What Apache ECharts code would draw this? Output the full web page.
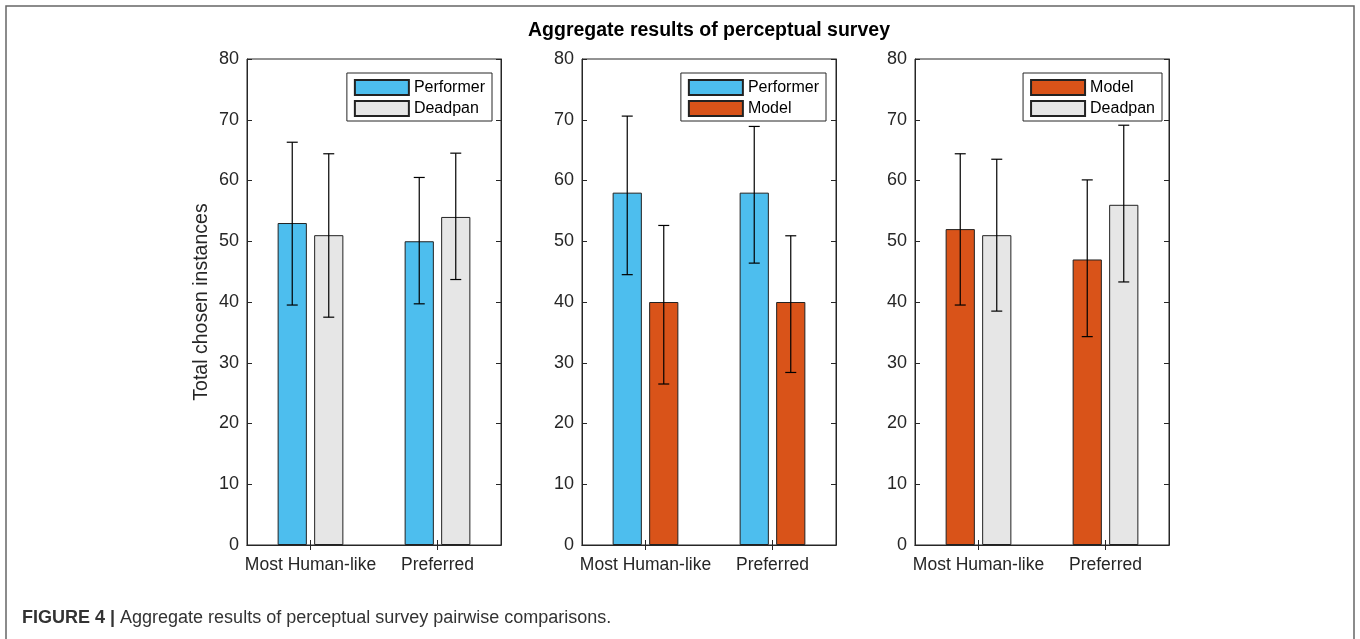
<!DOCTYPE html>
<html>
<head>
<meta charset="utf-8">
<script src="https://cdn.jsdelivr.net/npm/echarts@6/dist/echarts.min.js"></script>
<style>
  html, body { margin: 0; background: #fff; }
  #chart { width: 1360px; height: 639px; }
</style>
</head>
<body>
<div id="chart"></div>
<script>
const categories = ['Most Human-like', 'Preferred']
const yTicks = [0, 10, 20, 30, 40, 50, 60, 70, 80]

// panel 1: Performer vs Deadpan
const p1Performer = [53, 50]
const p1PerformerLow = [39.5, 39.7]
const p1PerformerHigh = [66.3, 60.5]
const p1Deadpan = [51, 54]
const p1DeadpanLow = [37.5, 43.7]
const p1DeadpanHigh = [64.4, 64.5]

// panel 2: Performer vs Model
const p2Performer = [58, 58]
const p2PerformerLow = [44.5, 46.4]
const p2PerformerHigh = [70.6, 68.9]
const p2Model = [40, 40]
const p2ModelLow = [26.5, 28.4]
const p2ModelHigh = [52.6, 50.9]

// panel 3: Model vs Deadpan
const p3Model = [52, 47]
const p3ModelLow = [39.5, 34.3]
const p3ModelHigh = [64.4, 60.1]
const p3Deadpan = [51, 56]
const p3DeadpanLow = [38.5, 43.3]
const p3DeadpanHigh = [63.5, 69.1]

const colors = { Performer: '#4DBEEE', Model: '#D95319', Deadpan: '#E6E6E6' }
const font = "'Liberation Sans', Arial, Helvetica, sans-serif"
const ink = '#262626'

const panels = [
  { left: 247, legendRight: 868, series: [
    { name: 'Performer', values: p1Performer, low: p1PerformerLow, high: p1PerformerHigh },
    { name: 'Deadpan', values: p1Deadpan, low: p1DeadpanLow, high: p1DeadpanHigh },
  ] },
  { left: 582, legendRight: 534, series: [
    { name: 'Performer', values: p2Performer, low: p2PerformerLow, high: p2PerformerHigh },
    { name: 'Model', values: p2Model, low: p2ModelLow, high: p2ModelHigh },
  ] },
  { left: 915, legendRight: 198, series: [
    { name: 'Model', values: p3Model, low: p3ModelLow, high: p3ModelHigh },
    { name: 'Deadpan', values: p3Deadpan, low: p3DeadpanLow, high: p3DeadpanHigh },
  ] },
]

// bar width 23% of band, gap 25% of bar -> centre offset 0.14375 band
const errorBar = (sign) => (params, api) => {
  const x = api.value(0)
  const lo = api.coord([x, api.value(1)])
  const hi = api.coord([x, api.value(2)])
  const cx = lo[0] + sign * api.size([1, 0])[0] * 0.14375
  const hw = 5.5
  const style = { stroke: '#000', lineWidth: 1.2 }
  return {
    type: 'group',
    children: [
      { type: 'line', shape: { x1: cx, y1: hi[1], x2: cx, y2: lo[1] }, style },
      { type: 'line', shape: { x1: cx - hw, y1: hi[1], x2: cx + hw, y2: hi[1] }, style },
      { type: 'line', shape: { x1: cx - hw, y1: lo[1], x2: cx + hw, y2: lo[1] }, style },
    ],
  }
}

const grid = [], xAxis = [], yAxis = [], legend = [], series = []

panels.forEach((p, i) => {
  grid.push({ left: p.left, top: 59, width: 254, height: 486, show: true, borderColor: ink, borderWidth: 1 })
  const tick = { show: true, inside: true, length: 5, lineStyle: { color: ink } }
  xAxis.push(
    { type: 'category', gridIndex: i, data: categories, position: 'bottom',
      axisLine: { lineStyle: { color: ink } },
      axisTick: { ...tick, alignWithLabel: true },
      axisLabel: { interval: 0, hideOverlap: false, fontSize: 17.5, color: ink, fontFamily: font, margin: 11 } },
    { type: 'category', gridIndex: i, data: categories, position: 'top',
      axisLine: { lineStyle: { color: ink } },
      axisTick: { ...tick, alignWithLabel: true },
      axisLabel: { show: false } },
  )
  yAxis.push(
    { type: 'value', gridIndex: i, min: yTicks[0], max: yTicks[yTicks.length - 1], interval: 10, position: 'left',
      axisLine: { show: true, lineStyle: { color: ink } },
      axisTick: tick, splitLine: { show: false },
      axisLabel: { fontSize: 18, color: ink, fontFamily: font, margin: 8 },
      name: i === 0 ? 'Total chosen instances' : '', nameLocation: 'middle', nameGap: 35,
      nameTextStyle: { fontSize: 19.5, color: ink, fontFamily: font } },
    { type: 'value', gridIndex: i, min: yTicks[0], max: yTicks[yTicks.length - 1], interval: 10, position: 'right',
      axisLine: { show: true, lineStyle: { color: ink } },
      axisTick: tick, splitLine: { show: false }, axisLabel: { show: false } },
  )
  legend.push({
    data: p.series.map((s) => s.name), orient: 'vertical', right: p.legendRight, top: 73,
    itemWidth: 54, itemHeight: 15, itemGap: 4, icon: 'rect', selectedMode: false,
    borderColor: ink, borderWidth: 1, padding: [6, 7, 4, 7], backgroundColor: '#fff',
    textStyle: { fontSize: 16, lineHeight: 17, color: '#000', fontFamily: font },
  })
  p.series.forEach((s) => {
    series.push({
      type: 'bar', name: s.name, xAxisIndex: 2 * i, yAxisIndex: 2 * i, data: s.values,
      barWidth: '23%', barGap: '25%',
      itemStyle: { color: colors[s.name], borderColor: '#222', borderWidth: 1 },
      emphasis: { disabled: true },
    })
  })
  p.series.forEach((s, j) => {
    series.push({
      type: 'custom', name: s.name + ' error', xAxisIndex: 2 * i, yAxisIndex: 2 * i, z: 5,
      renderItem: errorBar(j === 0 ? -1 : 1),
      encode: { x: 0, y: [1, 2] },
      data: categories.map((c, k) => [k, s.low[k], s.high[k]]),
    })
  })
})

const chart = echarts.init(document.getElementById('chart'), null, { renderer: 'canvas' })
chart.setOption({
  animation: false,
  backgroundColor: '#fff',
  grid, xAxis, yAxis, legend, series,
  graphic: [
    { type: 'rect', shape: { x: 6, y: 6, width: 1348, height: 700 }, style: { fill: 'none', stroke: '#666', lineWidth: 1.5 }, silent: true },
    { type: 'text', x: 709, y: 31, style: { text: 'Aggregate results of perceptual survey', font: 'bold 19.5px ' + font, fill: '#000', textAlign: 'center', textVerticalAlign: 'middle' } },
    { type: 'text', x: 22, y: 618, style: {
      text: '{b|FIGURE 4 |} Aggregate results of perceptual survey pairwise comparisons.',
      textVerticalAlign: 'middle', fontFamily: font, fontSize: 18, fill: '#333',
      rich: { b: { fontWeight: 'bold', fontSize: 18, fontFamily: font, fill: '#333' } } } },
  ],
})
</script>
</body>
</html>
